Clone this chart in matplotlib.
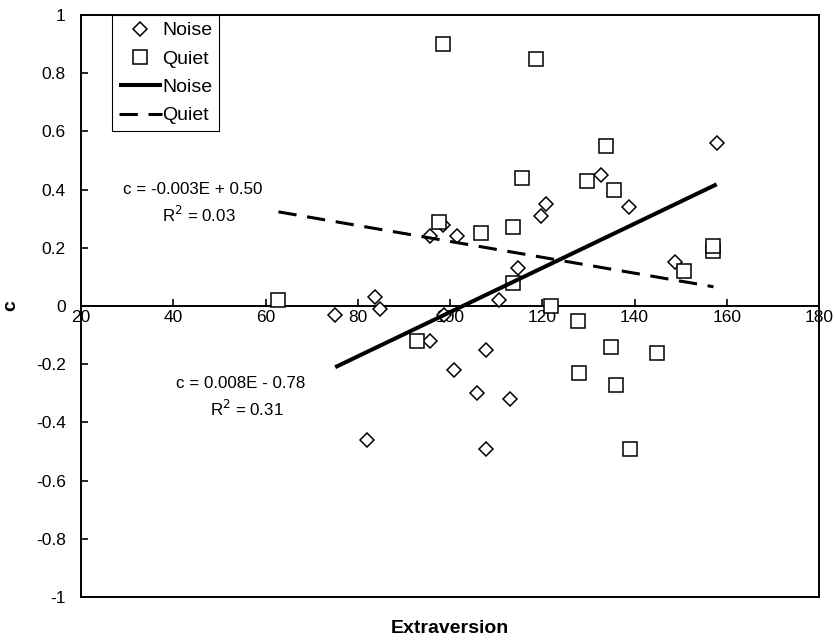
import numpy as np
import matplotlib
matplotlib.use("Agg")
import matplotlib.pyplot as plt

plt.rcParams['font.family'] = ['Liberation Sans', 'DejaVu Sans']

# Noise condition (diamonds)
noise_E = [75.1, 83.7, 84.8, 98.7, 95.7, 81.9, 107.7, 100.9, 105.8, 107.8, 112.9,
           95.7, 98.4, 101.6, 110.6, 114.7, 119.7, 120.7, 132.7, 138.7, 148.8, 157.8]
noise_c = [-0.03, 0.03, -0.01, -0.03, -0.12, -0.46, -0.15, -0.22, -0.30, -0.49, -0.32,
           0.24, 0.28, 0.24, 0.02, 0.13, 0.31, 0.35, 0.45, 0.34, 0.15, 0.56]

# Quiet condition (squares)
quiet_E = [62.8, 92.8, 97.7, 98.5, 106.7, 113.7, 113.7, 115.6, 118.6, 121.9, 127.8,
           127.9, 129.6, 133.9, 134.8, 135.6, 135.9, 139.0, 144.8, 150.8, 156.9, 156.9]
quiet_c = [0.02, -0.12, 0.29, 0.90, 0.25, 0.27, 0.08, 0.44, 0.85, 0.00, -0.05,
           -0.23, 0.43, 0.55, -0.14, 0.40, -0.27, -0.49, -0.16, 0.12, 0.19, 0.205]

# regression lines as drawn
noise_fit = (0.0076, -0.781)
noise_range = [75.1, 157.8]
quiet_fit = (-0.00273, 0.495)
quiet_range = [62.8, 157.1]

xticks = [20, 40, 60, 80, 100, 120, 140, 160, 180]
yticks = [-1, -0.8, -0.6, -0.4, -0.2, 0, 0.2, 0.4, 0.6, 0.8, 1]

fig = plt.figure(figsize=(8.35, 6.41), dpi=100)
ax = fig.add_axes([0.097, 0.0686, 0.884, 0.908])

ax.plot(noise_E, noise_c, linestyle='none', marker='D', markersize=7.0,
        markerfacecolor='white', markeredgecolor='black', markeredgewidth=1.1,
        label='Noise', zorder=3)
ax.plot(quiet_E, quiet_c, linestyle='none', marker='s', markersize=9.6,
        markerfacecolor='white', markeredgecolor='black', markeredgewidth=1.1,
        label='Quiet', zorder=3)

xn = np.array(noise_range)
ax.plot(xn, noise_fit[0] * xn + noise_fit[1], color='black', lw=2.9,
        solid_capstyle='butt', label='Noise', zorder=4)
xq = np.array(quiet_range)
ax.plot(xq, quiet_fit[0] * xq + quiet_fit[1], color='black', lw=2.2,
        dashes=(6, 3.5), label='Quiet', zorder=4)

ax.text(44.3, 0.40, 'c = -0.003E + 0.50', ha='center', va='center', fontsize=12.2)
ax.text(45.6, 0.313, 'R$^2$ = 0.03', ha='center', va='center', fontsize=12.2)
ax.text(54.5, -0.265, 'c = 0.008E - 0.78', ha='center', va='center', fontsize=12.2)
ax.text(56.0, -0.355, 'R$^2$ = 0.31', ha='center', va='center', fontsize=12.2)

ax.set_xlim(20, 180)
ax.set_ylim(-1, 1)
ax.set_xticks(xticks)
ax.set_xticklabels([str(v) for v in xticks])
ax.set_yticks(yticks)
ax.set_yticklabels(['%g' % v for v in yticks])

ax.spines['bottom'].set_position(('data', 0))
for s in ax.spines.values():
    s.set_linewidth(1.4)
ax.plot([0, 1], [0, 0], transform=ax.transAxes, color='black', lw=1.4,
        clip_on=False)

ax.tick_params(axis='both', direction='in', length=5, width=1.2,
               labelsize=12.5, colors='black')
ax.tick_params(axis='x', pad=3)
ax.tick_params(axis='y', pad=11)

ax.set_ylabel('c', fontsize=14, fontweight='bold', labelpad=12)
ax.set_xlabel('Extraversion', fontsize=14, fontweight='bold')
ax.xaxis.set_label_coords(0.5, -0.04)

leg = ax.legend(loc='upper left', bbox_to_anchor=(0.042, 1.0), fontsize=14,
                frameon=True, fancybox=False, framealpha=1, edgecolor='black',
                handlelength=2.2, handletextpad=0.05, labelspacing=0.55,
                borderpad=0.35, borderaxespad=0)
leg.get_frame().set_linewidth(0.8)

fig.savefig('out.png', dpi=100)
